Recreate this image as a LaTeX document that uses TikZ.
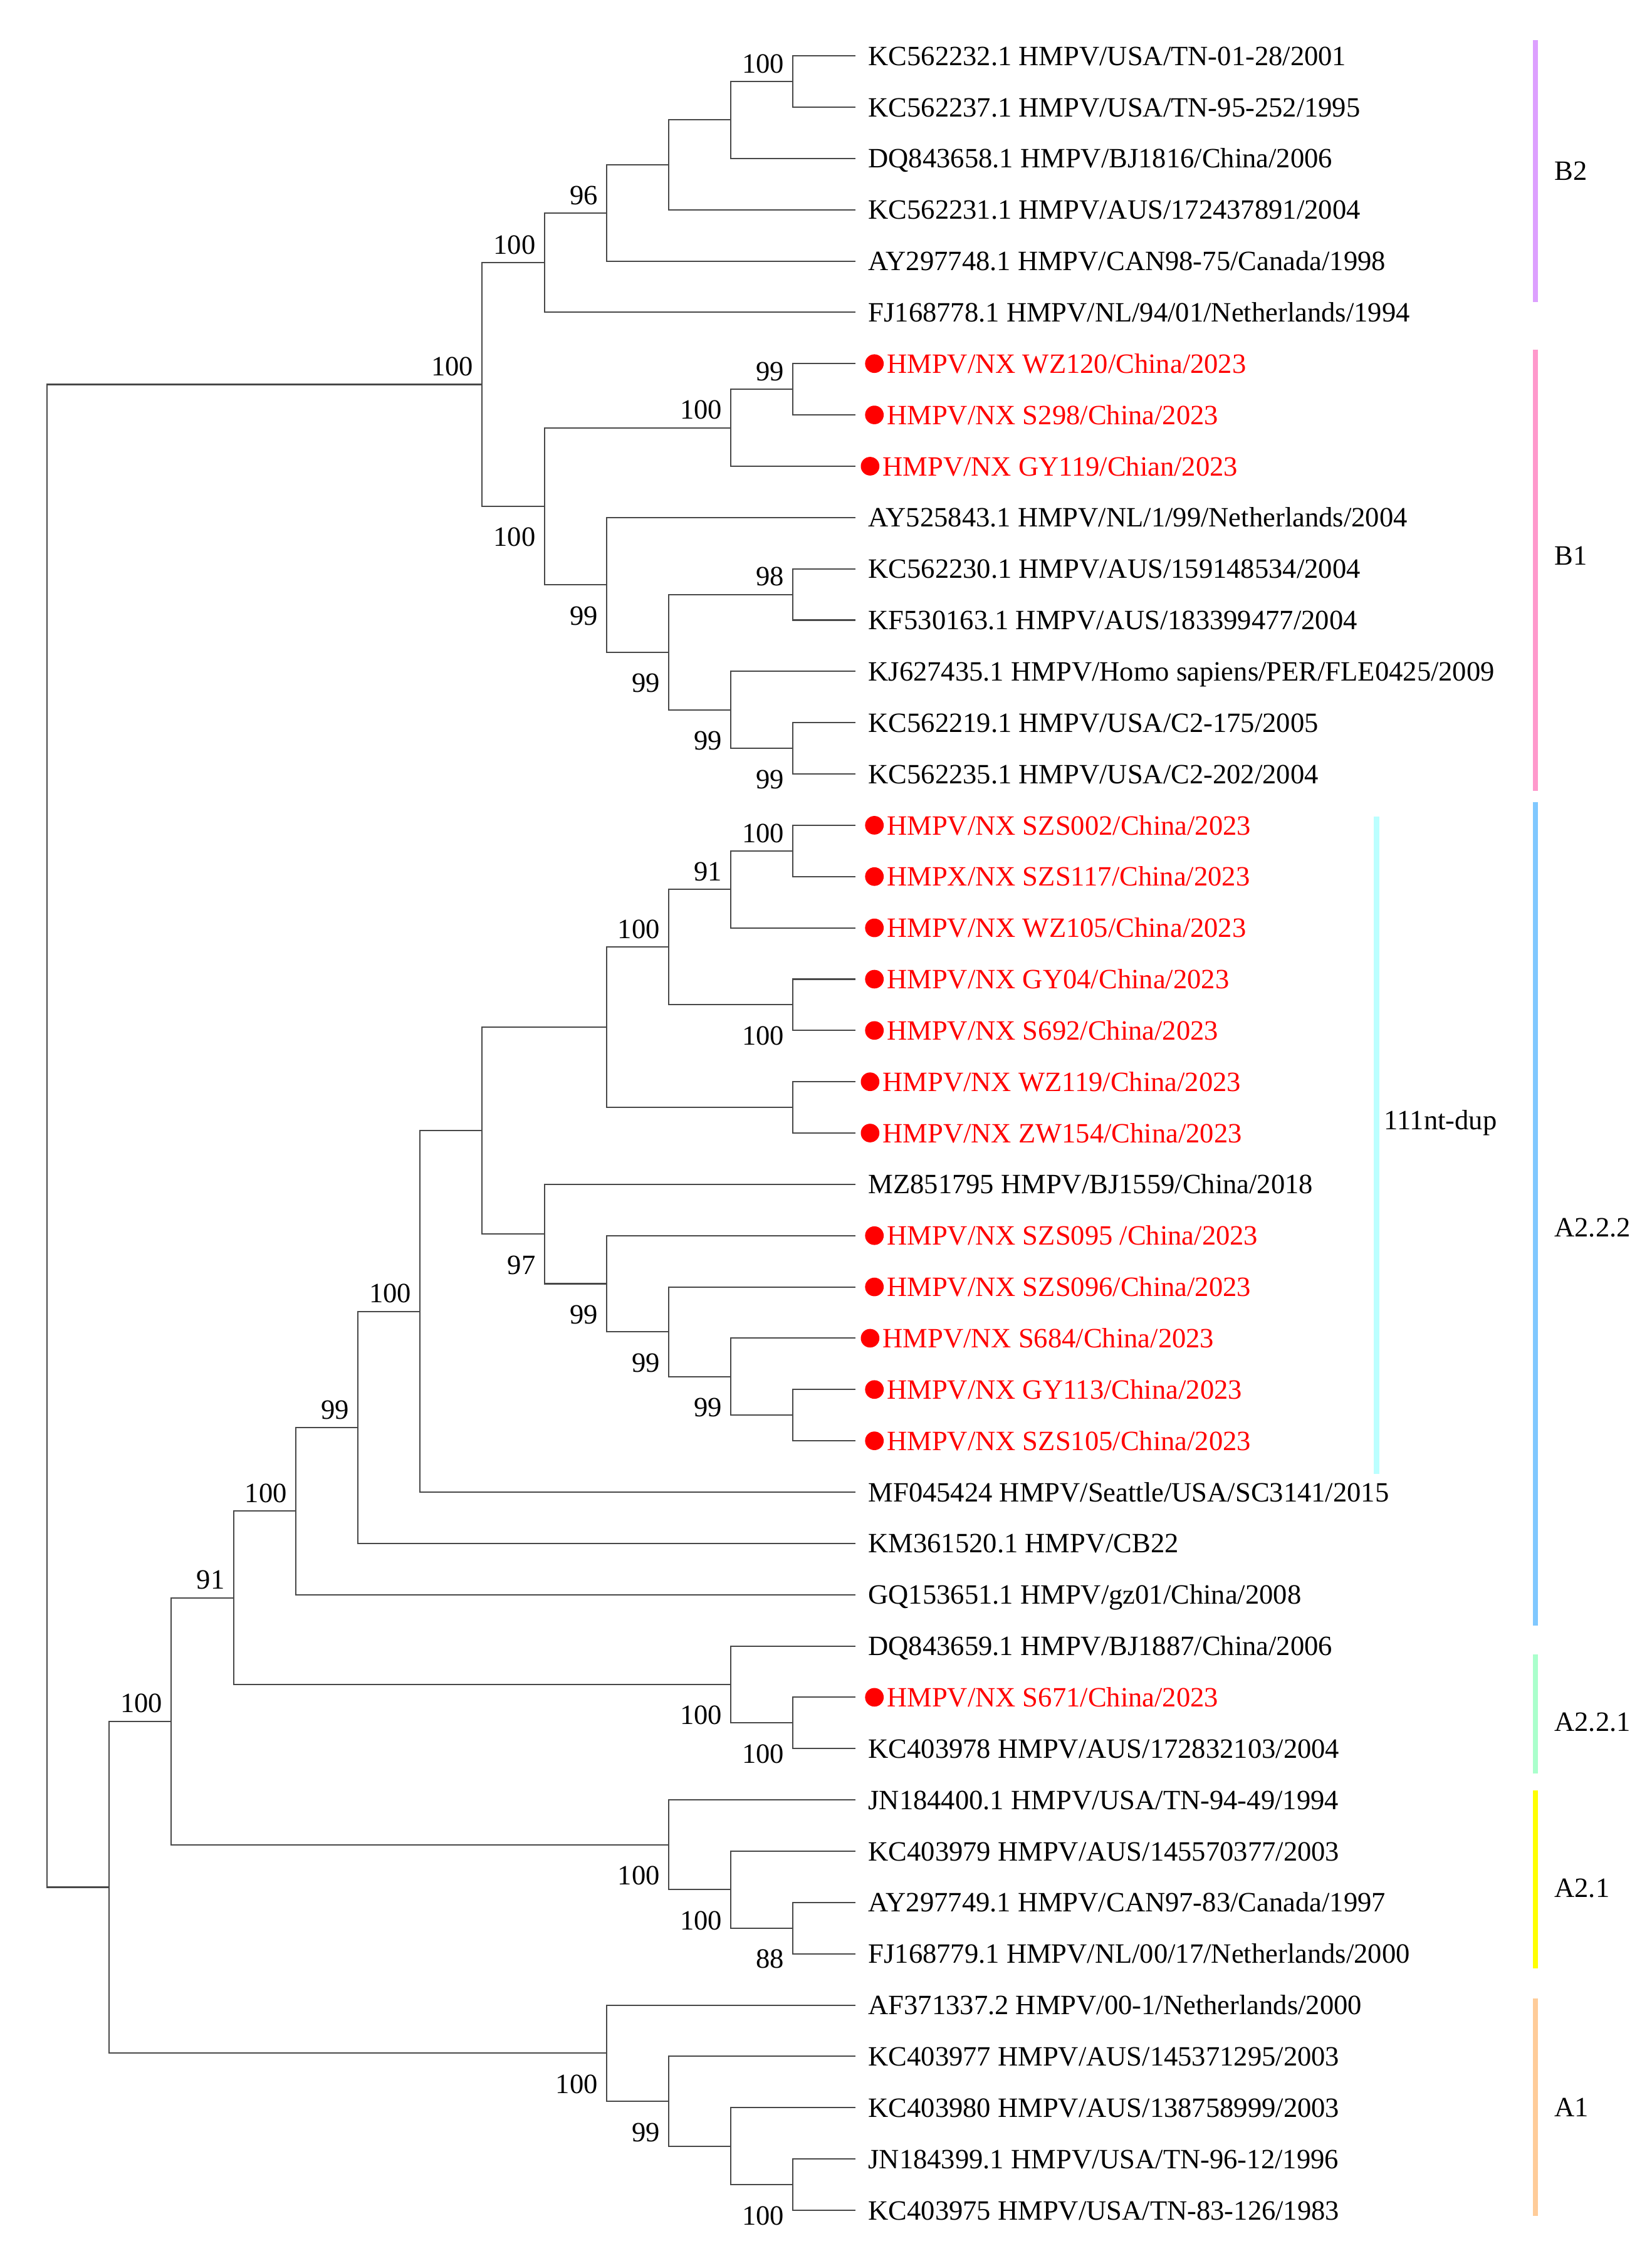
\documentclass[tikz,border=0pt]{standalone}
\usepackage{fontspec}
\setmainfont{Liberation Serif}
\usetikzlibrary{calc}
\definecolor{cBtwo}{RGB}{221,160,255}
\definecolor{cBone}{RGB}{255,153,204}
\definecolor{cAtt}{RGB}{128,200,255}
\definecolor{cAto}{RGB}{170,255,204}
\definecolor{cAo}{RGB}{255,255,0}
\definecolor{cAone}{RGB}{255,204,153}
\definecolor{cdup}{RGB}{187,255,255}
\newcommand\mkn[4]{\path let \p1=(#3), \p2=(#4) in coordinate (#1) at ({597-43.4*#2},{0.5*\y1+0.5*\y2});
  \draw[br] (#3) -| (#1) |- (#4);}
\newcommand\bsA[3]{\node[bsv] (#1) at ([xshift=-6pt,yshift=6pt]#2) {#3};}
\newcommand\bsB[3]{\node[bsv] (#1) at ([xshift=-6pt,yshift=-28pt]#2) {#3};}
\newcommand\bleaf[2]{\node[lbl] (t#1) at (606,{45.6+35.81*(#1-1)}) {#2};}
\newcommand\rleaf[3]{\node[rdot] (d#1) at ({610.4-#2},{39+35.81*(#1-1)}) {};
  \node[rlbl] (t#1) at ({619-#2},{45.6+35.81*(#1-1)}) {#3};}
\begin{document}
\begin{tikzpicture}[x=1pt,y=-1pt,
  br/.style={draw=black!72,line width=0.9pt},
  lbl/.style={anchor=base west,inner sep=0pt,font=\fontsize{19.5}{23}\selectfont},
  rlbl/.style={lbl,text=red},
  rdot/.style={circle,fill=red,inner sep=0pt,minimum size=13pt},
  bsv/.style={anchor=base east,inner sep=0pt,font=\fontsize{19.5}{23}\selectfont},
  bar/.style={line width=3.6pt}]
\useasboundingbox (0,0) rectangle (1153,1568);
\foreach \i in {1,...,43} \coordinate (l\i) at (597,{39+35.81*(\i-1)});
% B clade
\mkn{bk1}{1}{l1}{l2}
\mkn{bk2}{2}{bk1}{l3}
\mkn{bk3}{3}{bk2}{l4}
\mkn{bk4}{4}{bk3}{l5}
\mkn{nBtwo}{5}{bk4}{l6}
\mkn{rk1}{1}{l7}{l8}
\mkn{rk2}{2}{rk1}{l9}
\mkn{ck1}{1}{l11}{l12}
\mkn{dk1}{1}{l14}{l15}
\mkn{dk2}{2}{l13}{dk1}
\mkn{ck3}{3}{ck1}{dk2}
\mkn{ck4}{4}{l10}{ck3}
\mkn{nBone}{5}{rk2}{ck4}
\mkn{nB}{6}{nBtwo}{nBone}
% A clade
\mkn{ek1}{1}{l16}{l17}
\mkn{ek2}{2}{ek1}{l18}
\mkn{fk1}{1}{l19}{l20}
\mkn{ek3}{3}{ek2}{fk1}
\mkn{gk1}{1}{l21}{l22}
\mkn{ek4}{4}{ek3}{gk1}
\mkn{hk1}{1}{l27}{l28}
\mkn{hk2}{2}{l26}{hk1}
\mkn{hk3}{3}{l25}{hk2}
\mkn{hk4}{4}{l24}{hk3}
\mkn{hk5}{5}{l23}{hk4}
\mkn{ek6}{6}{ek4}{hk5}
\mkn{ak7}{7}{ek6}{l29}
\mkn{ak8}{8}{ak7}{l30}
\mkn{ak9}{9}{ak8}{l31}
\mkn{ik1}{1}{l33}{l34}
\mkn{ik2}{2}{l32}{ik1}
\mkn{ak10}{10}{ak9}{ik2}
\mkn{jk1}{1}{l37}{l38}
\mkn{jk2}{2}{l36}{jk1}
\mkn{jk3}{3}{l35}{jk2}
\mkn{ak11}{11}{ak10}{jk3}
\mkn{mk1}{1}{l42}{l43}
\mkn{mk2}{2}{l41}{mk1}
\mkn{mk3}{3}{l40}{mk2}
\mkn{mk4}{4}{l39}{mk3}
\mkn{ak12}{12}{ak11}{mk4}
\mkn{root}{13}{nB}{ak12}
% bootstrap values
\bsA{s1}{bk1}{100}
\bsA{s2}{bk4}{96}
\bsA{s3}{nBtwo}{100}
\bsA{s4}{nB}{100}
\bsA{s5}{rk1}{99}
\bsA{s6}{rk2}{100}
\bsA{s7}{ck1}{98}
\bsA{s8}{ek1}{100}
\bsA{s9}{ek2}{91}
\bsA{s10}{ek3}{100}
\bsA{s11}{ak7}{100}
\bsA{s12}{ak8}{99}
\bsA{s13}{ak9}{100}
\bsA{s14}{ak10}{91}
\bsA{s15}{ak11}{100}
\bsB{s16}{nBone}{100}
\bsB{s17}{ck4}{99}
\bsB{s18}{ck3}{99}
\bsB{s19}{dk2}{99}
\bsB{s20}{dk1}{99}
\bsB{s21}{fk1}{100}
\bsB{s22}{hk2}{99}
\bsB{s23}{hk3}{99}
\bsB{s24}{hk4}{99}
\bsB{s25}{hk5}{97}
\bsB{s26}{ik1}{100}
\bsB{s27}{ik2}{100}
\bsB{s28}{jk1}{88}
\bsB{s29}{jk2}{100}
\bsB{s30}{jk3}{100}
\bsB{s31}{mk1}{100}
\bsB{s32}{mk3}{99}
\bsB{s33}{mk4}{100}
% leaf labels
\bleaf{1}{KC562232.1 HMPV/USA/TN-01-28/2001}
\bleaf{2}{KC562237.1 HMPV/USA/TN-95-252/1995}
\bleaf{3}{DQ843658.1 HMPV/BJ1816/China/2006}
\bleaf{4}{KC562231.1 HMPV/AUS/172437891/2004}
\bleaf{5}{AY297748.1 HMPV/CAN98-75/Canada/1998}
\bleaf{6}{FJ168778.1 HMPV/NL/94/01/Netherlands/1994}
\rleaf{7}{0}{HMPV/NX WZ120/China/2023}
\rleaf{8}{0}{HMPV/NX S298/China/2023}
\rleaf{9}{3}{HMPV/NX GY119/Chian/2023}
\bleaf{10}{AY525843.1 HMPV/NL/1/99/Netherlands/2004}
\bleaf{11}{KC562230.1 HMPV/AUS/159148534/2004}
\bleaf{12}{KF530163.1 HMPV/AUS/183399477/2004}
\bleaf{13}{KJ627435.1 HMPV/Homo sapiens/PER/FLE0425/2009}
\bleaf{14}{KC562219.1 HMPV/USA/C2-175/2005}
\bleaf{15}{KC562235.1 HMPV/USA/C2-202/2004}
\rleaf{16}{0}{HMPV/NX SZS002/China/2023}
\rleaf{17}{0}{HMPX/NX SZS117/China/2023}
\rleaf{18}{0}{HMPV/NX WZ105/China/2023}
\rleaf{19}{0}{HMPV/NX GY04/China/2023}
\rleaf{20}{0}{HMPV/NX S692/China/2023}
\rleaf{21}{3}{HMPV/NX WZ119/China/2023}
\rleaf{22}{3}{HMPV/NX ZW154/China/2023}
\bleaf{23}{MZ851795 HMPV/BJ1559/China/2018}
\rleaf{24}{0}{HMPV/NX SZS095 /China/2023}
\rleaf{25}{0}{HMPV/NX SZS096/China/2023}
\rleaf{26}{3}{HMPV/NX S684/China/2023}
\rleaf{27}{0}{HMPV/NX GY113/China/2023}
\rleaf{28}{0}{HMPV/NX SZS105/China/2023}
\bleaf{29}{MF045424 HMPV/Seattle/USA/SC3141/2015}
\bleaf{30}{KM361520.1 HMPV/CB22}
\bleaf{31}{GQ153651.1 HMPV/gz01/China/2008}
\bleaf{32}{DQ843659.1 HMPV/BJ1887/China/2006}
\rleaf{33}{0}{HMPV/NX S671/China/2023}
\bleaf{34}{KC403978 HMPV/AUS/172832103/2004}
\bleaf{35}{JN184400.1 HMPV/USA/TN-94-49/1994}
\bleaf{36}{KC403979 HMPV/AUS/145570377/2003}
\bleaf{37}{AY297749.1 HMPV/CAN97-83/Canada/1997}
\bleaf{38}{FJ168779.1 HMPV/NL/00/17/Netherlands/2000}
\bleaf{39}{AF371337.2 HMPV/00-1/Netherlands/2000}
\bleaf{40}{KC403977 HMPV/AUS/145371295/2003}
\bleaf{41}{KC403980 HMPV/AUS/138758999/2003}
\bleaf{42}{JN184399.1 HMPV/USA/TN-96-12/1996}
\bleaf{43}{KC403975 HMPV/USA/TN-83-126/1983}
% clade bars
\draw[bar,cBtwo] (1072,28) -- (1072,211);
\draw[bar,cBone] (1072,244) -- (1072,552);
\draw[bar,cAtt] (1072,560) -- (1072,1135);
\draw[bar,cAto] (1072,1155) -- (1072,1238);
\draw[bar,cAo] (1072,1250) -- (1072,1374);
\draw[bar,cAone] (1072,1395) -- (1072,1547);
\draw[bar,cdup] (961,570) -- (961,1029);
\node[lbl] (gB2) at (1085,{119+6.6}) {B2};
\node[lbl] (gB1) at (1085,{388+6.6}) {B1};
\node[lbl] (gA222) at (1085,{857+6.6}) {A2.2.2};
\node[lbl] (gA221) at (1085,{1202+6.6}) {A2.2.1};
\node[lbl] (gA21) at (1085,{1318+6.6}) {A2.1};
\node[lbl] (gA1) at (1085,{1471+6.6}) {A1};
\node[lbl] (gdup) at (966,{782+6.6}) {111nt-dup};
\end{tikzpicture}
\end{document}
